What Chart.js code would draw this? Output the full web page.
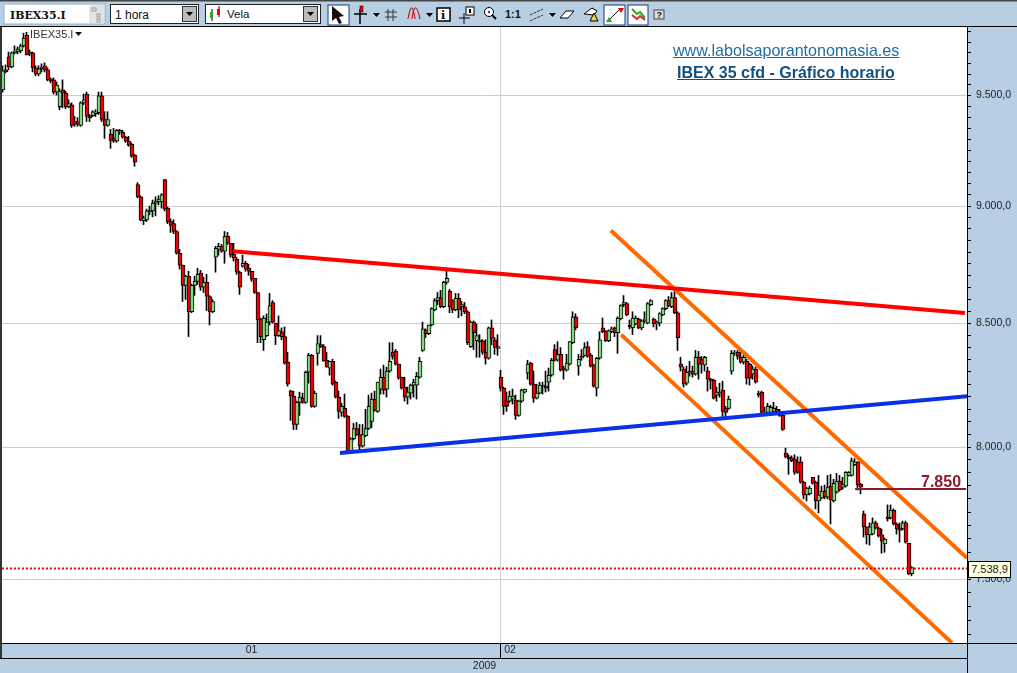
<!DOCTYPE html>
<html lang="es"><head><meta charset="utf-8"><title>IBEX 35 cfd - Gráfico horario</title>
<script src="https://cdn.jsdelivr.net/npm/chart.js@4"></script>
<style>
html,body{margin:0;padding:0;width:1017px;height:673px;overflow:hidden;background:#b8cfe3;font-family:"Liberation Sans",Arial,sans-serif}
canvas{position:absolute;left:0;top:0}
.abs{position:absolute;white-space:nowrap}
.ln{position:absolute;background:#000}
</style></head><body>
<canvas id="c" width="1017" height="673"></canvas>

<svg class="abs" style="left:0;top:0" width="1017" height="27" viewBox="0 0 1017 27" font-family="Liberation Sans, Arial, sans-serif">
<rect width="1017" height="27" fill="#b8cfe3"/><rect width="1017" height="1.5" fill="#444"/><rect y="26" width="1017" height="1" fill="#000"/>
<rect x="4" y="4" width="101" height="20" fill="#fff" stroke="#8fb0cc"/><rect x="89" y="5" width="15" height="18" fill="#e4e4e4"/>
<text x="10" y="18.5" font-family="DejaVu Serif" font-weight="bold" font-size="11" fill="#111">IBEX35.I</text>
<g fill="none" stroke="#999"><rect x="92" y="8" width="4" height="3"/><rect x="97" y="14" width="3" height="3"/><rect x="97" y="19" width="3" height="3"/></g>
<rect x="110.500" y="4.500" width="88" height="19" fill="#fff" stroke="#222"/><text x="115" y="18.500" font-size="12" fill="#111">1 hora</text>
<rect x="182.500" y="6.500" width="14" height="15" fill="#bbb" stroke="#333"/><path d="M186 12h7l-3.500 4z" fill="#000"/>
<rect x="205.500" y="4.500" width="115" height="19" fill="#fff" stroke="#222"/><text x="227" y="17.500" font-size="11.500" fill="#111">Vela</text>
<path d="M212 9v12M219 6v11" stroke="#000"/><rect x="210" y="12" width="3" height="6" fill="#2a2"/><rect x="217" y="9" width="3" height="6" fill="#e00"/>
<rect x="303.500" y="6.500" width="14" height="15" fill="#bbb" stroke="#333"/><path d="M307 12h7l-3.500 4z" fill="#000"/>
<rect x="328" y="5" width="21" height="20" fill="#fff" stroke="#123a7c"/><path d="M332 6l0 15 4-3 3 6 3-1-3-6 5-1z" fill="#111"/>
<path d="M354 14h13M360 9v15" stroke="#000" stroke-width="1.500"/><rect x="360" y="6" width="3" height="6" fill="#e00" stroke="#000" stroke-width=".5"/>
<path d="M373 13h7l-3.500 4z" fill="#000"/>
<path d="M388 9v12M393 9v12M385 12h12M385 17h12" stroke="#333"/>
<path d="M408 19c3-16 5-14 7 0M412 19c2-16 5-14 8 0" fill="none" stroke="#b22" stroke-width="1.200"/><path d="M426 13h7l-3.500 4z" fill="#000"/>
<rect x="437" y="8" width="13" height="13" fill="#fff" stroke="#000" stroke-width="1.500"/><text x="441" y="19" font-family="DejaVu Serif" font-weight="bold" font-size="11">i</text>
<path d="M459 18h11M464 13v11" stroke="#000"/><rect x="466" y="7" width="8" height="8" fill="#fff" stroke="#000"/><rect x="469" y="9" width="2" height="4" fill="#000"/>
<circle cx="489" cy="12" r="4.500" fill="#fff" stroke="#000"/><circle cx="489" cy="12" r="1.200" fill="#33c"/><path d="M492 15l4 4" stroke="#000" stroke-width="2"/>
<text x="505" y="18" font-weight="bold" font-size="11" fill="#111">1:1</text>
<path d="M530 15l13-6M530 21l13-6" stroke="#333" stroke-dasharray="3 1"/><path d="M549 13h7l-3.500 4z" fill="#000"/>
<path d="M560 18l6-7h8l-6 7z" fill="#fff" stroke="#000"/>
<path d="M584 14l8-6 5 3-3 4z" fill="#fff" stroke="#000"/><path d="M590 21l4-8 4 8z" fill="#f4d040" stroke="#000"/>
<rect x="604" y="5" width="21" height="20" fill="#fff" stroke="#123a7c"/><path d="M609 20l11-11" stroke="#111"/><path d="M606 22h6l-3-5z" fill="#2a2"/><path d="M618 8h6l-3 5z" fill="#e00"/>
<rect x="628" y="5" width="20" height="20" fill="#fff" stroke="#123a7c"/><path d="M632 9l5 5 3-2 5 6" stroke="#2a2" fill="none" stroke-width="2"/><path d="M632 15l5 4 3-3 5 4" stroke="#d22" fill="none" stroke-width="2"/>
<rect x="654" y="10" width="10" height="9" fill="#ddd" stroke="#444"/><text x="656.500" y="18" font-weight="bold" font-size="9" fill="#111">?</text>
</svg>

<div class="ln" style="left:0;top:27px;width:2px;height:632px;background:#333"></div>
<div class="ln" style="left:0;top:658px;width:967px;height:1px"></div>
<div class="ln" style="left:967px;top:27px;width:1px;height:646px"></div>
<div class="ln" style="left:967px;top:643px;width:50px;height:1px"></div>

<div class="abs" style="left:30px;top:28px;font-size:11px;line-height:13px;color:#333">IBEX35.I</div>
<svg class="abs" style="left:75px;top:32px" width="7" height="5"><path d="M0 0h7l-3.500 4z" fill="#111"/></svg>
<div class="abs" style="left:673px;top:41px;font-size:16.100px;line-height:18px;color:#1f6ea3;text-decoration:underline">www.labolsaporantonomasia.es</div>
<div class="abs" style="left:677px;top:64px;font-size:16px;line-height:18px;font-weight:bold;color:#14507f;text-decoration:underline">IBEX 35 cfd - Gráfico horario</div>
<div class="abs" style="left:921px;top:473px;font-size:16px;line-height:18px;font-weight:bold;color:#8a1c2c">7.850</div>
<div class="abs" style="left:968px;top:561px;width:41px;height:15px;background:#ffffe1;border:1px solid #000;font-size:11px;line-height:15px;text-align:center;color:#222">7.538,9</div>

<script>
const opens=[
9526,9620,9681,9634,9700,9704,9709,9733,9784,9695,
9700,9629,9601,9625,9639,9620,9578,9573,9516,9448,
9526,9511,9448,9457,9380,9380,9362,9466,9507,9407,
9407,9416,9421,9498,9389,9362,9321,9303,9290,9331,
9331,9308,9290,9276,9227,9095,9041,8936,8940,8974,
8979,9013,9018,9018,9118,8991,8932,8923,8889,8795,
8744,8658,8697,8547,8658,8675,8710,8650,8671,8611,
8547,8778,8812,8825,8804,8868,8838,8791,8769,8714,
8740,8752,8731,8718,8688,8628,8517,8431,8448,8504,
8586,8500,8448,8464,8444,8339,8222,8202,8089,8177,
8194,8177,8298,8367,8161,8375,8411,8403,8347,8315,
8343,8258,8198,8137,8153,8121,7985,8032,8073,8049,
8004,8045,8073,8101,8190,8141,8230,8278,8230,8303,
8379,8383,8331,8278,8238,8198,8214,8246,8246,8278,
8387,8472,8456,8492,8555,8594,8607,8568,8671,8633,
8594,8555,8603,8568,8568,8547,8403,8504,8427,8423,
8427,8379,8355,8480,8431,8395,8278,8234,8182,8182,
8190,8186,8125,8182,8218,8294,8335,8250,8194,8214,
8246,8242,8258,8286,8391,8347,8371,8315,8307,8331,
8419,8526,8323,8355,8367,8403,8367,8327,8234,8355,
8480,8468,8427,8464,8480,8460,8517,8577,8581,8492,
8480,8496,8517,8480,8509,8500,8577,8517,8496,8500,
8534,8560,8594,8568,8607,8543,8331,8311,8254,8294,
8303,8290,8359,8351,8327,8303,8270,8266,8206,8210,
8226,8153,8153,8303,8375,8379,8359,8339,8343,8331,
8290,8311,8214,8218,8137,8137,8137,8141,8149,8141,
8125,7977,7962,7958,7951,7943,7943,7864,7815,7819,
7883,7864,7792,7803,7830,7807,7849,7792,7826,7868,
7845,7849,7890,7890,7932,7943,7856,7743,7694,7664,
7667,7709,7690,7664,7630,7732,7728,7758,7705,7690,
7686,7709,7633,7520];
const highs=[
9639,9643,9704,9704,9733,9728,9742,9794,9798,9714,
9704,9639,9639,9648,9653,9629,9582,9582,9563,9531,
9573,9520,9480,9466,9403,9398,9471,9507,9516,9412,
9430,9434,9516,9516,9425,9425,9344,9349,9344,9344,
9340,9312,9312,9281,9231,9104,9046,8957,8987,9000,
9027,9041,9046,9055,9118,8996,8944,8940,8893,8812,
8744,8701,8718,8663,8697,8731,8722,8692,8705,8615,
8598,8825,8838,8833,8889,8885,8838,8838,8778,8718,
8787,8761,8748,8718,8688,8628,8521,8530,8538,8624,
8594,8500,8530,8480,8484,8379,8226,8222,8182,8218,
8214,8303,8375,8371,8222,8448,8448,8411,8379,8343,
8351,8262,8222,8173,8210,8125,8037,8093,8097,8089,
8089,8149,8206,8214,8222,8258,8311,8327,8319,8419,
8419,8391,8331,8278,8278,8238,8250,8270,8298,8359,
8504,8476,8492,8564,8602,8628,8637,8675,8718,8641,
8598,8624,8624,8590,8586,8551,8509,8509,8496,8452,
8431,8431,8484,8513,8440,8452,8306,8238,8218,8222,
8230,8206,8186,8230,8230,8347,8339,8303,8250,8258,
8258,8303,8315,8355,8411,8423,8399,8323,8371,8423,
8547,8539,8371,8391,8419,8423,8375,8331,8359,8464,
8521,8468,8472,8484,8484,8526,8577,8615,8586,8513,
8547,8530,8521,8513,8547,8586,8598,8521,8509,8543,
8564,8598,8611,8628,8645,8547,8359,8319,8323,8343,
8323,8387,8383,8363,8363,8319,8274,8270,8238,8254,
8262,8161,8202,8387,8387,8387,8383,8367,8351,8335,
8323,8319,8222,8222,8157,8173,8165,8177,8161,8149,
8129,7996,7970,7966,7970,7962,7962,7868,7845,7849,
7883,7868,7890,7849,7853,7890,7894,7875,7898,7890,
7883,7905,7905,7958,7955,7943,7860,7754,7694,7709,
7728,7716,7694,7686,7652,7777,7777,7762,7709,7709,
7716,7716,7633,7546];
const lows=[
9516,9606,9620,9629,9695,9695,9700,9728,9690,9686,
9610,9592,9592,9610,9610,9568,9559,9507,9502,9434,
9443,9439,9443,9353,9358,9358,9358,9457,9380,9380,
9403,9403,9412,9380,9303,9358,9258,9285,9285,9321,
9303,9285,9267,9217,9177,9037,8936,8919,8932,8962,
8953,8957,9005,8991,8979,8923,8885,8880,8791,8727,
8590,8599,8444,8543,8616,8662,8637,8628,8552,8492,
8543,8714,8787,8799,8752,8833,8778,8761,8705,8620,
8735,8718,8701,8675,8624,8419,8419,8387,8444,8492,
8500,8411,8444,8431,8331,8242,8105,8069,8069,8125,
8173,8173,8254,8157,8157,8327,8399,8343,8319,8286,
8246,8194,8113,8121,8117,7985,7981,8028,8045,7989,
8000,8041,8069,8077,8141,8137,8210,8210,8198,8298,
8351,8327,8270,8230,8182,8170,8190,8198,8190,8274,
8383,8440,8452,8488,8551,8577,8564,8564,8663,8543,
8543,8551,8522,8530,8539,8411,8399,8391,8359,8359,
8371,8331,8351,8411,8371,8367,8222,8129,8141,8177,
8170,8109,8121,8177,8214,8270,8246,8177,8190,8210,
8210,8218,8222,8282,8343,8343,8303,8270,8303,8327,
8415,8472,8286,8347,8363,8359,8319,8238,8202,8351,
8460,8423,8423,8460,8444,8375,8513,8568,8530,8476,
8452,8492,8476,8472,8500,8496,8573,8484,8472,8488,
8530,8555,8568,8564,8539,8387,8303,8238,8246,8282,
8278,8286,8270,8294,8303,8222,8230,8190,8182,8198,
8121,8121,8149,8290,8367,8351,8335,8331,8250,8246,
8270,8254,8198,8133,8129,8133,8133,8133,8133,8121,
8065,7958,7894,7943,7894,7898,7860,7800,7792,7815,
7856,7762,7747,7800,7800,7800,7705,7788,7822,7830,
7837,7845,7887,7887,7928,7834,7819,7656,7630,7626,
7664,7686,7656,7596,7599,7716,7724,7701,7667,7637,
7682,7633,7516,7512];
const closes=[
9615,9610,9634,9700,9709,9718,9733,9770,9690,9704,
9629,9601,9625,9634,9620,9573,9568,9516,9549,9521,
9511,9448,9462,9362,9367,9367,9466,9480,9403,9398,
9425,9425,9498,9389,9362,9389,9294,9290,9340,9340,
9308,9290,9272,9222,9195,9041,8940,8949,8979,8983,
9013,9022,9031,9050,8987,8932,8915,8889,8795,8744,
8658,8697,8547,8658,8675,8705,8650,8671,8611,8547,
8590,8816,8825,8804,8868,8838,8787,8774,8714,8650,
8752,8727,8718,8684,8628,8513,8444,8521,8504,8573,
8504,8448,8468,8444,8335,8250,8202,8089,8177,8198,
8177,8298,8367,8161,8214,8415,8403,8343,8319,8343,
8250,8198,8141,8161,8121,7985,8032,8073,8049,8004,
8049,8073,8161,8190,8145,8258,8278,8226,8303,8343,
8363,8331,8274,8234,8198,8218,8246,8258,8282,8343,
8476,8456,8492,8560,8594,8607,8568,8671,8688,8568,
8555,8603,8555,8577,8547,8419,8504,8460,8448,8431,
8379,8355,8480,8436,8399,8403,8234,8161,8161,8202,
8202,8125,8182,8226,8230,8331,8250,8194,8214,8246,
8242,8234,8286,8347,8347,8371,8307,8307,8335,8423,
8526,8480,8351,8363,8399,8363,8323,8242,8355,8431,
8464,8427,8468,8476,8460,8521,8573,8586,8534,8484,
8521,8521,8480,8509,8517,8581,8594,8496,8504,8539,
8560,8594,8573,8607,8543,8440,8319,8250,8298,8303,
8290,8359,8331,8331,8359,8270,8262,8194,8218,8218,
8141,8137,8190,8375,8379,8363,8339,8359,8274,8274,
8311,8258,8206,8137,8141,8161,8157,8153,8141,8125,
8069,7962,7955,7947,7902,7902,7864,7815,7841,7841,
7860,7792,7815,7830,7807,7845,7796,7860,7868,7834,
7856,7902,7902,7947,7943,7853,7845,7694,7664,7694,
7709,7690,7660,7641,7648,7724,7758,7705,7686,7682,
7709,7637,7520,7543];

const majorTicks=[7500,8000,8500,9000,9500];
const majorLabels=['7.500,0','8.000,0','8.500,0','9.000,0','9.500,0'];
const minorTicks=[7300,7350,7400,7450,7550,7600,7650,7700,7750,7800,7850,7900,7950,
8050,8100,8150,8200,8250,8300,8350,8400,8450,8550,8600,8650,8700,8750,8800,8850,8900,8950,
9050,9100,9150,9200,9250,9300,9350,9400,9450,9550,9600,9650,9700,9750,9800];

const monthBoundary=166;
const monthTicks=[83,169.2];
const monthLabels=['01','02'];
const yearLabel='2009';

const redLine=[{x:76.8,y:8804},{x:320.8,y:8542}];
const blueLine=[{x:112.5,y:7977},{x:321.8,y:8202}];
const orangeUpper=[{x:202.8,y:8893},{x:321.5,y:7578}];
const orangeLower=[{x:206.2,y:8452},{x:316.5,y:7270}];
const level7850=[{x:284.2,y:7838},{x:321.2,y:7838}];
const lastPrice=[{x:-0.2,y:7538.9},{x:321.5,y:7538.9}];

const wicks=lows.map((l,i)=>({x:i,y:[l,highs[i]]}));
const bodies=opens.map((o,i)=>({x:i+1/6,y:[Math.min(o,closes[i]),Math.max(o,closes[i])]}));
const bodyColors=opens.map((o,i)=>closes[i]>=o?'#82d882':'#ee0000');

const line=(data,color,width,extra)=>Object.assign({type:'line',data,borderColor:color,borderWidth:width,pointRadius:0,tension:0,order:0,borderCapStyle:'butt'},extra||{});

const whiteArea={id:'whiteArea',beforeDraw(c){const a=c.chartArea;c.ctx.save();c.ctx.fillStyle='#fff';c.ctx.fillRect(a.left,a.top,a.right-a.left,a.bottom-a.top);c.ctx.restore();}};

new Chart(document.getElementById('c'),{
 type:'bar',
 data:{datasets:[
  {data:wicks,backgroundColor:'#000',barThickness:1,grouped:false,order:3,borderWidth:0},
  {data:bodies,backgroundColor:bodyColors,borderColor:'#000',borderWidth:1,borderSkipped:false,barThickness:4,grouped:false,order:2},
  line(lastPrice,'#ee0000',2,{borderDash:[2,2]}),
  line(level7850,'#8a1c2c',2),
  line(blueLine,'#0a30e8',4),
  line(redLine,'#ff0000',4),
  line(orangeUpper,'#ff6a00',4),
  line(orangeLower,'#ff6a00',4)
 ]},
 plugins:[whiteArea],
 options:{
  responsive:false,animation:false,
  layout:{padding:{top:27,left:2,right:0,bottom:0}},
  plugins:{legend:{display:false},tooltip:{enabled:false},title:{display:false}},
  scales:{
   x:{type:'linear',position:'bottom',min:-1/6,max:321.5,offset:false,
    afterBuildTicks(s){s.ticks=[monthTicks[0],monthBoundary,monthTicks[1]].map(v=>({value:v}));},
    afterFit(s){s.height=30;},
    grid:{offset:false,tickLength:15,
     color:c=>c.tick&&c.tick.value===monthBoundary?'#cccccc':'transparent',
     tickColor:c=>c.tick&&c.tick.value===monthBoundary?'#000':'transparent'},
    border:{display:true,color:'#000'},
    ticks:{autoSkip:false,maxRotation:0,padding:-14,color:'#222',font:{family:'Liberation Sans',size:10.5},
     callback:v=>{const k=monthTicks.indexOf(v);return k>=0?monthLabels[k]:'';}},
    title:{display:true,text:yearLabel,color:'#222',font:{family:'Liberation Sans',size:10.5},padding:{top:0,bottom:1}}
   },
   y:{type:'logarithmic',position:'right',min:7269.6,max:9823.4,
    afterBuildTicks(s){s.ticks=minorTicks.concat(majorTicks).sort((a,b)=>a-b).map(v=>({value:v}));},
    afterFit(s){s.width=50;},
    grid:{tickLength:4,color:c=>c.tick&&majorTicks.includes(c.tick.value)?'#cccccc':'transparent',tickColor:'#000'},
    border:{display:true,color:'#000'},
    ticks:{autoSkip:false,padding:5,color:'#222',font:{family:'Liberation Sans',size:10.5},
     callback:v=>{const k=majorTicks.indexOf(v);return k>=0?majorLabels[k]:'';}}
   }
  }
 }
});
</script>
</body></html>
